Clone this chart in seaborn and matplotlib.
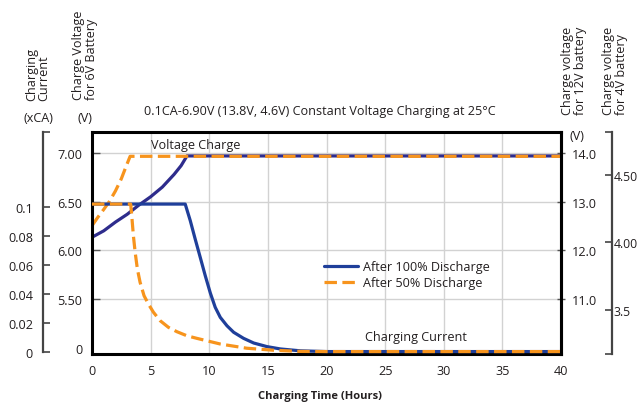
import matplotlib
matplotlib.use('Agg')
import matplotlib.pyplot as plt
import seaborn as sns

# Readings taken off the reference chart (time in hours)
hours_volt_100 = [0, 1, 2, 3, 4, 5, 6, 7, 7.6, 8.1, 40]
volt_100 = [6.134, 6.20, 6.29, 6.37, 6.465, 6.55, 6.65, 6.78, 6.87, 6.97, 6.97]
hours_volt_50 = [0, 0.5, 1, 1.5, 2, 2.5, 2.9, 3.25, 40]
volt_50 = [6.253, 6.34, 6.42, 6.505, 6.61, 6.735, 6.86, 6.966, 6.966]

hours_cur_100 = [0, 7.95, 8.38, 8.80, 9.23, 9.66, 10.09, 10.51, 10.94, 11.51, 12.08,
                 12.93, 13.79, 14.93, 16.07, 17.78, 20, 40]
cur_100 = [0.102, 0.102, 0.0906, 0.0779, 0.0653, 0.0526, 0.0407, 0.0308, 0.0239, 0.0181, 0.0136,
           0.0094, 0.0062, 0.0037, 0.0021, 0.0008, 0.0003, 0.0003]
hours_cur_50 = [0, 3.3, 3.39, 3.53, 3.68, 3.87, 4.10, 4.44, 4.81, 5.24, 5.81, 6.52, 7.24,
                8.09, 8.95, 10.94, 13.2, 15.5, 17.8, 20, 40]
cur_50 = [0.102, 0.102, 0.094, 0.0802, 0.0688, 0.0572, 0.0481, 0.0388, 0.0331, 0.0274, 0.0216,
          0.017, 0.014, 0.0112, 0.0094, 0.0055, 0.0026, 0.0012, 0.0004, 0.0003, 0.0003]

x_ticks = [0, 5, 10, 15, 20, 25, 30, 35, 40]
ticks_6v = [5.5, 6.0, 6.5, 7.0]
labels_6v = ['5.50', '6.00', '6.50', '7.00']
ticks_12v = [11.0, 12.0, 13.0, 14.0]
labels_12v = ['11.0', '12.0', '13.0', '14.0']
ticks_4v = [3.5, 4.0, 4.5]
labels_4v = ['3.5', '4.00', '4.50']
ticks_cur = [0, 0.02, 0.04, 0.06, 0.08, 0.1]
labels_cur = ['0', '0.02', '0.04', '0.06', '0.08', '0.1']
legend_labels = ['After 100% Discharge', 'After 50% Discharge']

BLUE = '#1f3f9a'
NAVY = '#2e2c8c'
ORANGE = '#f7941d'
GRID = '#d2d2d2'
TEXT = '#231f20'
FS = 9.1

sns.set_style('white')
plt.rcParams['font.family'] = ['Open Sans', 'DejaVu Sans']
plt.rcParams['font.size'] = FS
plt.rcParams['text.color'] = TEXT
plt.rcParams['xtick.color'] = TEXT
plt.rcParams['ytick.color'] = TEXT

W, H = 640, 410


def fx(px):
    return px / W


def fy(py):
    return 1 - py / H


fig = plt.figure(figsize=(6.4, 4.1), dpi=100)
ax = fig.add_axes([fx(92), fy(355), (561 - 92) / W, (355 - 133) / H])
ax_cur = ax.twinx()
ax_12v = ax.twinx()
ax_4v = ax.twinx()

v_lim = (4.934, 7.216)
cur_lim = (-0.00138, 0.1517)

# grid + main frame
ax.set_axisbelow(True)
ax.grid(True, color=GRID, lw=1)
for s in ax.spines.values():
    s.set_color('black')
    s.set_linewidth(2.2)

# voltage curves (6V scale)
sns.lineplot(x=hours_volt_100, y=volt_100, ax=ax, color=NAVY, lw=2.3, legend=False)
sns.lineplot(x=hours_volt_50, y=volt_50, ax=ax, color=ORANGE, lw=2.3,
             linestyle=(0, (3.9, 1.7)), legend=False)

# current curves
sns.lineplot(x=hours_cur_100, y=cur_100, ax=ax_cur, color=BLUE, lw=2.3, legend=False)
sns.lineplot(x=hours_cur_50, y=cur_50, ax=ax_cur, color=ORANGE, lw=2.3,
             linestyle=(0, (3.9, 1.7)), legend=False)
h_100, h_50 = ax_cur.lines[0], ax_cur.lines[1]

ax.set_xlim(0, 40)
ax.set_ylim(*v_lim)
ax_12v.set_ylim(v_lim[0] * 2, v_lim[1] * 2)
ax_cur.set_ylim(*cur_lim)
ax_4v.set_ylim(3.178, 4.814)
ax.set_xlabel('')
ax.set_ylabel('')
ax_cur.set_ylabel('')

ax.set_xticks(x_ticks)
ax.set_xticklabels([str(t) for t in x_ticks])
ax.set_yticks(ticks_6v)
ax.set_yticklabels(labels_6v)
ax.tick_params(axis='x', length=0, pad=7, labelsize=FS)
ax.tick_params(axis='y', direction='in', length=6, width=1, color='#555555', pad=7, labelsize=FS)

# current axis on the far left
for name, s in ax_cur.spines.items():
    s.set_visible(name == 'left')
ax_cur.yaxis.tick_left()
ax_cur.spines['left'].set_position(('axes', -0.105))
ax_cur.spines['left'].set_color('#444444')
ax_cur.spines['left'].set_linewidth(1.6)
ax_cur.spines['left'].set_bounds(0, cur_lim[1])
ax_cur.set_yticks(ticks_cur + [0.1516])
ax_cur.set_yticklabels(labels_cur + [''])
ax_cur.tick_params(axis='y', direction='in', length=5, width=1.2, color='#444444', pad=7, labelsize=FS)

# 12V axis on the frame's right side
for name, s in ax_12v.spines.items():
    s.set_visible(name == 'right')
ax_12v.spines['right'].set_color('black')
ax_12v.spines['right'].set_linewidth(2.2)
ax_12v.set_yticks(ticks_12v)
ax_12v.set_yticklabels(labels_12v)
ax_12v.tick_params(axis='y', direction='inout', length=6, width=1, color='#555555', pad=5, labelsize=FS)

# 4V axis on the far right
for name, s in ax_4v.spines.items():
    s.set_visible(name == 'right')
ax_4v.spines['right'].set_position(('axes', 1.108))
ax_4v.spines['right'].set_color('#444444')
ax_4v.spines['right'].set_linewidth(1.6)
ax_4v.set_yticks(ticks_4v + [3.1781, 4.8139])
ax_4v.set_yticklabels(labels_4v + ['', ''])
ax_4v.tick_params(axis='y', direction='in', length=5, width=1.2, color='#444444', pad=1.5, labelsize=FS - 0.3)

ax_4v.legend([h_100, h_50], legend_labels, loc='upper left',
             bbox_to_anchor=(fx(324), fy(261)), bbox_transform=fig.transFigure,
             frameon=False, handlelength=2.7, handletextpad=0.4, labelspacing=0.25,
             borderpad=0, borderaxespad=0, fontsize=FS)

# texts around the chart
fig.text(fx(83), fy(351), '0', ha='right', va='center', fontsize=FS)
fig.text(fx(320), fy(111), '0.1CA-6.90V (13.8V, 4.6V) Constant Voltage Charging at 25°C',
         ha='center', va='center', fontsize=FS)
fig.text(fx(320), fy(397), 'Charging Time (Hours)', ha='center', va='center',
         fontsize=8, fontweight='bold')
fig.text(fx(196), fy(145), 'Voltage Charge', ha='center', va='center', fontsize=FS)
fig.text(fx(416), fy(338), 'Charging Current', ha='center', va='center', fontsize=FS)

fig.text(fx(38), fy(101), 'Charging\nCurrent', rotation=90, ha='center', va='bottom',
         multialignment='left', fontsize=FS, linespacing=0.95)
fig.text(fx(38), fy(118), '(xCA)', ha='center', va='center', fontsize=FS)
fig.text(fx(85), fy(100), 'Charge Voltage\nfor 6V Battery', rotation=90, ha='center',
         va='bottom', multialignment='left', fontsize=FS, linespacing=0.95)
fig.text(fx(85), fy(118), '(V)', ha='center', va='center', fontsize=FS)
fig.text(fx(574), fy(115), 'Charge voltage\nfor 12V battery', rotation=90, ha='center',
         va='bottom', multialignment='left', fontsize=FS, linespacing=0.95)
fig.text(fx(577), fy(137), '(V)', ha='center', va='center', fontsize=FS)
fig.text(fx(615), fy(115), 'Charge voltage\nfor 4V battery', rotation=90, ha='center',
         va='bottom', multialignment='left', fontsize=FS, linespacing=0.95)

fig.savefig('out.png', dpi=100)
